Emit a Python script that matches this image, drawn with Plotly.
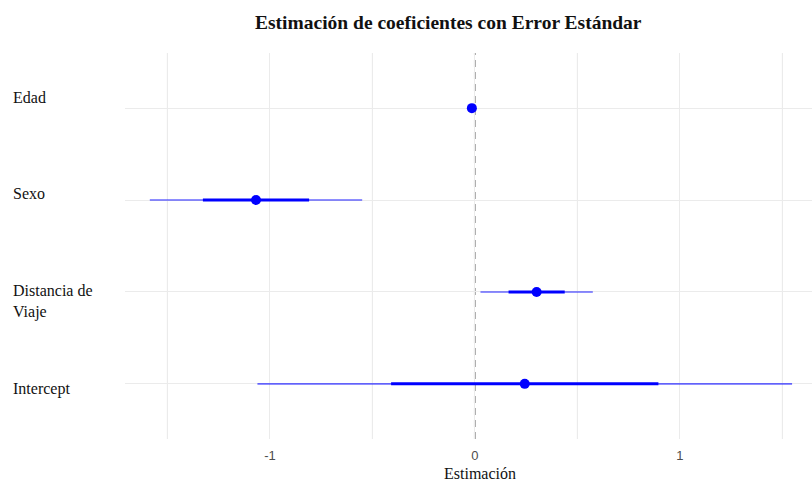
import plotly.graph_objects as go

# Coefficient estimates and standard errors
terms = ["Intercept", "Distancia de Viaje", "Sexo", "Edad"]
labels = ["Intercept", "Distancia de<br>Viaje", "Sexo", "Edad"]
estimates = [0.243, 0.301, -1.068, -0.015]
std_errors = [0.652, 0.137, 0.259, 0.004]

tick_vals = [-1, 0, 1]
tick_text = ["-1", "0", "1"]
minor_vals = [-1.5, -0.5, 0.5, 1.5]

W, H = 812, 481
ML, MR, MT, MB = 125, 0, 53, 42

fig = go.Figure()

# +/- 2 SE (thin, translucent)
fig.add_trace(go.Scatter(
    x=estimates, y=terms, mode="markers",
    marker=dict(size=0.1, color="rgba(0,0,255,0)"),
    error_x=dict(type="data", array=[2 * s for s in std_errors],
                 color="rgba(40,40,255,0.7)", thickness=1.6, width=0),
    hoverinfo="skip", showlegend=False,
))
# +/- 1 SE (thick)
fig.add_trace(go.Scatter(
    x=estimates, y=terms, mode="markers",
    marker=dict(size=10, color="#0000ff"),
    error_x=dict(type="data", array=std_errors,
                 color="#0000ff", thickness=3, width=0),
    showlegend=False,
))

# zero reference line
fig.add_shape(type="line", x0=0, x1=0, y0=0, y1=1, yref="paper",
              line=dict(color="#aaaaaa", width=2, dash="7px,5px"), layer="below")

# minor vertical gridlines
for v in minor_vals:
    fig.add_shape(type="line", x0=v, x1=v, y0=0, y1=1, yref="paper",
                  line=dict(color="#ebebeb", width=1.2), layer="below")

# category labels on the left
label_shift = [-5, -10, 7, 11]
for t, lab, ys in zip(terms, labels, label_shift):
    fig.add_annotation(
        x=-(ML - 11) / (W - ML - MR), xref="paper", y=t, yref="y",
        text=lab, showarrow=False, xanchor="left", yanchor="middle", align="left",
        yshift=ys, font=dict(family="Liberation Serif", size=16, color="#111111"),
    )

fig.add_annotation(
    x=(448 - ML) / (W - ML - MR), xref="paper", y=1, yref="paper", yshift=31,
    text="<b>Estimación de coeficientes con Error Estándar</b>", showarrow=False,
    xanchor="center", yanchor="middle",
    font=dict(family="Liberation Serif", size=19.5, color="#111111"),
)
fig.add_annotation(
    x=(480 - ML) / (W - ML - MR), xref="paper", y=0, yref="paper", yshift=-34,
    text="Estimación", showarrow=False, xanchor="center", yanchor="middle",
    font=dict(family="Liberation Serif", size=16, color="#111111"),
)

x_left = -1.707
x_right = x_left + (W - ML - MR) / 205.0

fig.update_xaxes(
    range=[x_left, x_right], tickvals=tick_vals, ticktext=tick_text,
    showgrid=True, gridcolor="#ebebeb", gridwidth=1.3, zeroline=False,
    showline=False, ticks="", ticklabelstandoff=7,
    tickfont=dict(family="Liberation Sans", size=13, color="#4d4d4d"),
)
fig.update_yaxes(
    type="category", categoryorder="array", categoryarray=terms,
    range=[-0.6, 3.6], showgrid=True, gridcolor="#ebebeb", gridwidth=1.3,
    showticklabels=False, zeroline=False, showline=False, ticks="",
)

fig.update_layout(
    width=W, height=H, margin=dict(l=ML, r=MR, t=MT, b=MB),
    plot_bgcolor="white", paper_bgcolor="white",
)

fig.write_html("out.html")
